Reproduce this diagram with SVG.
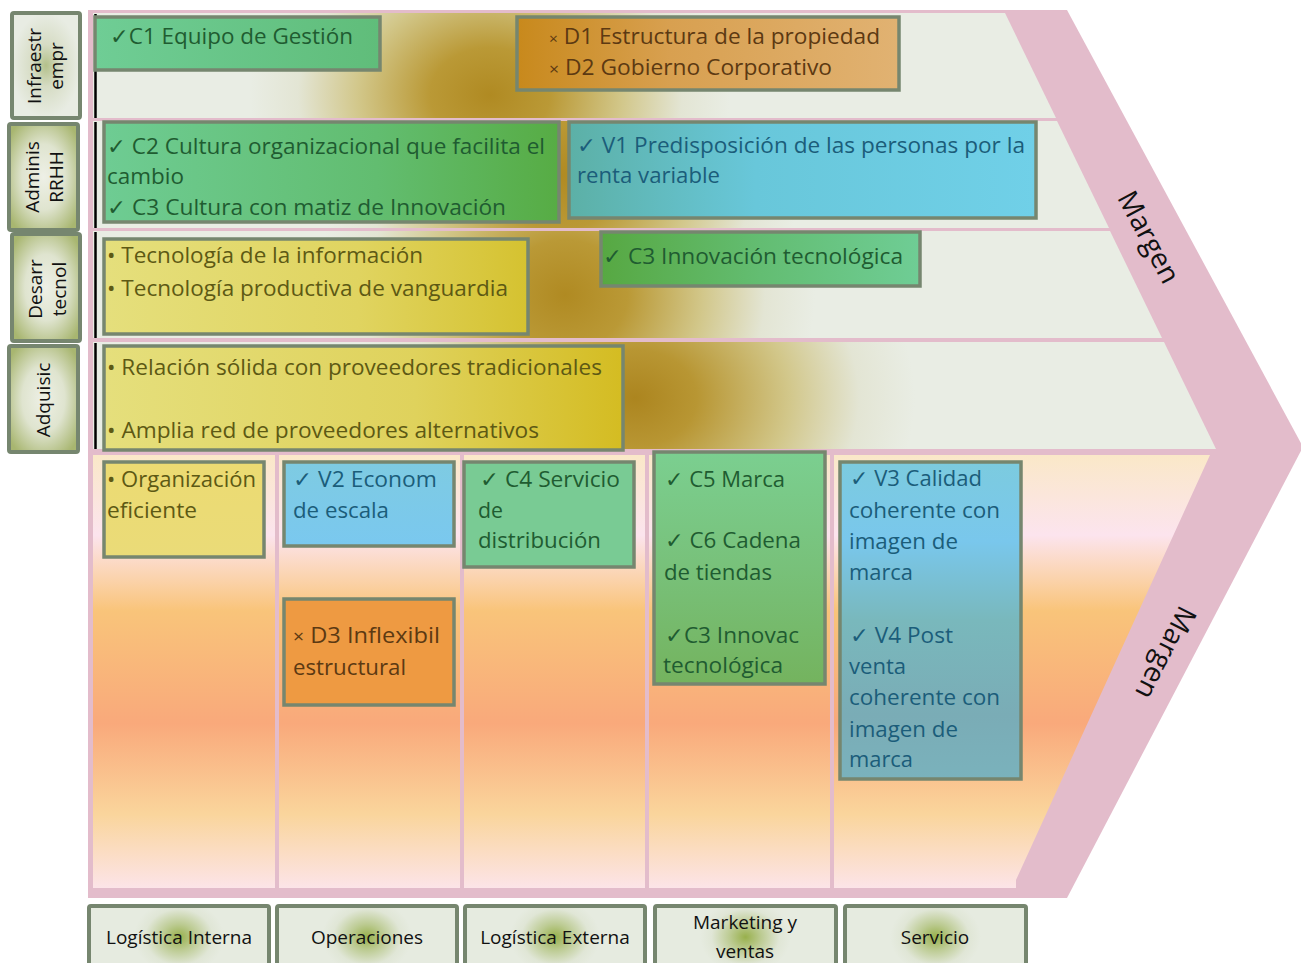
<svg xmlns="http://www.w3.org/2000/svg" width="1301" height="963" viewBox="0 0 1301 963">
<style>
  text { font-family: "Open Sans", "Noto Sans", "DejaVu Sans", sans-serif; }
  .box { stroke: #76866f; stroke-width: 3.5; }
  .t { font-size: 22px; }
  .tg { fill: #1f5c31; }
  .tb { fill: #1b5d7a; }
  .ty { fill: #5d5914; }
  .to { fill: #5c3912; }
  .lab { stroke: #76866f; stroke-width: 4; }
  .lt { font-size: 19px; fill: #111; text-anchor: middle; }
  .bt { font-size: 19px; fill: #111; text-anchor: middle; }
  .mg { font-size: 28px; fill: #111; text-anchor: middle; }
  .vline { stroke: #000; stroke-width: 2.5; }
  .sep { fill: #e3bccb; }
</style>
<defs>
  <!-- support rows: pale base with an ochre glow -->
  <radialGradient id="row1" gradientUnits="userSpaceOnUse" cx="0" cy="0" r="1" gradientTransform="translate(490 95) scale(240 190)">
    <stop offset="0" stop-color="#b08a22"/><stop offset="0.25" stop-color="#ba9936"/><stop offset="0.55" stop-color="#d2c78a"/><stop offset="0.8" stop-color="#e3e5d4"/><stop offset="1" stop-color="#e9ede4"/>
  </radialGradient>
  <radialGradient id="row2" gradientUnits="userSpaceOnUse" cx="0" cy="0" r="1" gradientTransform="translate(560 175) scale(240 220)">
    <stop offset="0" stop-color="#b08a22"/><stop offset="0.25" stop-color="#ba9936"/><stop offset="0.55" stop-color="#d2c78a"/><stop offset="0.8" stop-color="#e3e5d4"/><stop offset="1" stop-color="#e9ede4"/>
  </radialGradient>
  <radialGradient id="row3" gradientUnits="userSpaceOnUse" cx="0" cy="0" r="1" gradientTransform="translate(565 295) scale(250 220)">
    <stop offset="0" stop-color="#b08a22"/><stop offset="0.25" stop-color="#ba9936"/><stop offset="0.55" stop-color="#d2c78a"/><stop offset="0.8" stop-color="#e3e5d4"/><stop offset="1" stop-color="#e9ede4"/>
  </radialGradient>
  <radialGradient id="row4" gradientUnits="userSpaceOnUse" cx="0" cy="0" r="1" gradientTransform="translate(635 398) scale(280 220)">
    <stop offset="0" stop-color="#ac851f"/><stop offset="0.22" stop-color="#b89633"/><stop offset="0.55" stop-color="#d2c78a"/><stop offset="0.8" stop-color="#e3e5d4"/><stop offset="1" stop-color="#e9ede4"/>
  </radialGradient>
  <!-- primary activities band -->
  <linearGradient id="prim" gradientUnits="userSpaceOnUse" x1="0" y1="455" x2="0" y2="888">
    <stop offset="0" stop-color="#fae8c8"/>
    <stop offset="0.185" stop-color="#fce4ee"/>
    <stop offset="0.28" stop-color="#fbd4b0"/>
    <stop offset="0.36" stop-color="#f9c47a"/>
    <stop offset="0.62" stop-color="#f9a97b"/>
    <stop offset="0.83" stop-color="#fad59c"/>
    <stop offset="1" stop-color="#fce4e8"/>
  </linearGradient>
  <!-- box fills -->
  <linearGradient id="gC1" x1="0" y1="0" x2="1" y2="0"><stop offset="0" stop-color="#6fcd95"/><stop offset="1" stop-color="#60bd7a"/></linearGradient>
  <linearGradient id="gD1" x1="0" y1="0" x2="1" y2="0"><stop offset="0" stop-color="#c8891c"/><stop offset="0.4" stop-color="#d8a050"/><stop offset="1" stop-color="#e1b272"/></linearGradient>
  <linearGradient id="gC2" x1="0" y1="0" x2="1" y2="0"><stop offset="0" stop-color="#6ecc93"/><stop offset="0.6" stop-color="#62bd70"/><stop offset="1" stop-color="#57ac44"/></linearGradient>
  <linearGradient id="gV1" x1="0" y1="0" x2="1" y2="0"><stop offset="0" stop-color="#5cb0a6"/><stop offset="0.4" stop-color="#68c7da"/><stop offset="1" stop-color="#70d0e8"/></linearGradient>
  <linearGradient id="gTec" x1="0" y1="0" x2="1" y2="0"><stop offset="0" stop-color="#e5df7c"/><stop offset="0.6" stop-color="#e0d460"/><stop offset="1" stop-color="#d5c230"/></linearGradient>
  <linearGradient id="gC3" x1="0" y1="0" x2="1" y2="0"><stop offset="0" stop-color="#57a842"/><stop offset="0.5" stop-color="#63bd72"/><stop offset="1" stop-color="#6fcd95"/></linearGradient>
  <linearGradient id="gAdq" x1="0" y1="0" x2="1" y2="0"><stop offset="0" stop-color="#e5df7c"/><stop offset="0.6" stop-color="#dfd25c"/><stop offset="1" stop-color="#d4bc22"/></linearGradient>
  <linearGradient id="gOrg" x1="0" y1="0" x2="0" y2="1"><stop offset="0" stop-color="#ecdb72"/><stop offset="1" stop-color="#eadb78"/></linearGradient>
  <linearGradient id="gV2" x1="0" y1="0" x2="0" y2="1"><stop offset="0" stop-color="#7ecbe2"/><stop offset="1" stop-color="#7ac8ef"/></linearGradient>
  <linearGradient id="gC5" x1="0" y1="0" x2="0" y2="1"><stop offset="0" stop-color="#7bcf90"/><stop offset="0.5" stop-color="#78c17a"/><stop offset="1" stop-color="#74b35e"/></linearGradient>
  <linearGradient id="gV3" x1="0" y1="0" x2="0" y2="1"><stop offset="0" stop-color="#7ccbdf"/><stop offset="0.25" stop-color="#79c7ec"/><stop offset="0.5" stop-color="#79b8bc"/><stop offset="0.8" stop-color="#7aacb6"/><stop offset="1" stop-color="#7ab2bc"/></linearGradient>
  <!-- label fills -->
  <radialGradient id="lblInfra" cx="50%" cy="50%" r="50%">
    <stop offset="0" stop-color="#b3c08a"/><stop offset="0.4" stop-color="#d6dcc4"/><stop offset="1" stop-color="#e8ece3"/>
  </radialGradient>
  <radialGradient id="lblOlive" cx="50%" cy="50%" r="62%">
    <stop offset="0" stop-color="#eef0e6"/><stop offset="0.5" stop-color="#dfe4cf"/><stop offset="1" stop-color="#a8b670"/>
  </radialGradient>
  <radialGradient id="lblAct" cx="0.5" cy="0.5" r="0.5" gradientTransform="translate(0.5 0.5) scale(0.5 1.2) translate(-0.5 -0.5)">
    <stop offset="0" stop-color="#98b04c"/><stop offset="0.35" stop-color="#bccb92"/><stop offset="0.75" stop-color="#e0e6d6"/><stop offset="1" stop-color="#e6ebe0"/>
  </radialGradient>
</defs>

<!-- chain outline -->
<g id="chain">
  <polygon class="sep" points="88,10 1067,10 1303,447 1067,898 88,898"/>
  <polygon fill="url(#row1)" points="93,13 1005,13 1056,118 93,118"/>
  <polygon fill="url(#row2)" points="93,121 1057,121 1109,228 93,228"/>
  <polygon fill="url(#row3)" points="93,231 1110,231 1162,338 93,338"/>
  <polygon fill="url(#row4)" points="93,342 1164,342 1216,449 93,449"/>
  <rect x="93" y="455" width="182" height="433" fill="url(#prim)"/>
  <rect x="279" y="455" width="181" height="433" fill="url(#prim)"/>
  <rect x="464" y="455" width="181" height="433" fill="url(#prim)"/>
  <rect x="649" y="455" width="181" height="433" fill="url(#prim)"/>
  <polygon fill="url(#prim)" points="834,455 1210,455 1016,880 1016,888 834,888"/>
  <line class="vline" x1="95.5" y1="14" x2="95.5" y2="118"/>
  <line class="vline" x1="95.5" y1="122" x2="95.5" y2="228"/>
  <line class="vline" x1="95.5" y1="232" x2="95.5" y2="338"/>
  <line class="vline" x1="95.5" y1="343" x2="95.5" y2="449"/>
  <text class="mg" transform="translate(1149,237) rotate(62)" dy="0.35em" textLength="100" lengthAdjust="spacingAndGlyphs">Margen</text>
  <text class="mg" transform="translate(1166,653) rotate(117)" dy="0.35em" textLength="100" lengthAdjust="spacingAndGlyphs">Margen</text>
</g>

<!-- support activity labels -->
<g id="lbl-infra">
  <rect class="lab" x="12" y="13" width="68" height="105" rx="2" fill="url(#lblInfra)"/>
  <text class="lt" transform="translate(41,66) rotate(-90)">Infraestr</text>
  <text class="lt" transform="translate(63,66) rotate(-90)">empr</text>
</g>
<g id="lbl-rrhh">
  <rect class="lab" x="9" y="124" width="69" height="106" rx="2" fill="url(#lblOlive)"/>
  <text class="lt" transform="translate(39,177) rotate(-90)">Adminis</text>
  <text class="lt" transform="translate(63,177) rotate(-90)">RRHH</text>
</g>
<g id="lbl-tec">
  <rect class="lab" x="12" y="234" width="68" height="107" rx="2" fill="url(#lblOlive)"/>
  <text class="lt" transform="translate(42,289) rotate(-90)">Desarr</text>
  <text class="lt" transform="translate(66,289) rotate(-90)">tecnol</text>
</g>
<g id="lbl-adq">
  <rect class="lab" x="9" y="346" width="69" height="106" rx="2" fill="url(#lblOlive)"/>
  <text class="lt" transform="translate(50,400) rotate(-90)">Adquisic</text>
</g>

<!-- support activity notes -->
<g id="n-c1">
  <rect class="box" x="95" y="17" width="285" height="53" fill="url(#gC1)"/>
  <text class="t tg" x="110" y="44" textLength="243" lengthAdjust="spacingAndGlyphs">✓C1 Equipo de Gestión</text>
</g>
<g id="n-d1d2">
  <rect class="box" x="517" y="17" width="382" height="73" fill="url(#gD1)"/>
  <text class="t to" x="549" y="44" textLength="331" lengthAdjust="spacingAndGlyphs"><tspan font-size="15">×</tspan> D1 Estructura de la propiedad</text>
  <text class="t to" x="549" y="75" textLength="283" lengthAdjust="spacingAndGlyphs"><tspan font-size="17">×</tspan> D2 Gobierno Corporativo</text>
</g>
<g id="n-c2c3">
  <rect class="box" x="104" y="122" width="455" height="100" fill="url(#gC2)"/>
  <text class="t tg" x="107" y="154" textLength="438" lengthAdjust="spacingAndGlyphs">✓ C2 Cultura organizacional que facilita el</text>
  <text class="t tg" x="107" y="184" textLength="77" lengthAdjust="spacingAndGlyphs">cambio</text>
  <text class="t tg" x="107" y="215" textLength="399" lengthAdjust="spacingAndGlyphs">✓ C3 Cultura con matiz de Innovación</text>
</g>
<g id="n-v1">
  <rect class="box" x="569" y="122" width="467" height="96" fill="url(#gV1)"/>
  <text class="t tb" x="577" y="153" textLength="448" lengthAdjust="spacingAndGlyphs">✓ V1 Predisposición de las personas por la</text>
  <text class="t tb" x="577" y="183" textLength="143" lengthAdjust="spacingAndGlyphs">renta variable</text>
</g>
<g id="n-tec">
  <rect class="box" x="104" y="239" width="424" height="95" fill="url(#gTec)"/>
  <text class="t ty" x="107" y="263" textLength="316" lengthAdjust="spacingAndGlyphs">• Tecnología de la información</text>
  <text class="t ty" x="107" y="296" textLength="401" lengthAdjust="spacingAndGlyphs">• Tecnología productiva de vanguardia</text>
</g>
<g id="n-c3i">
  <rect class="box" x="601" y="232" width="319" height="54" fill="url(#gC3)"/>
  <text class="t tg" x="603" y="264" textLength="300" lengthAdjust="spacingAndGlyphs">✓ C3 Innovación tecnológica</text>
</g>
<g id="n-adq">
  <rect class="box" x="104" y="346" width="519" height="104" fill="url(#gAdq)"/>
  <text class="t ty" x="107" y="375" textLength="495" lengthAdjust="spacingAndGlyphs">• Relación sólida con proveedores tradicionales</text>
  <text class="t ty" x="107" y="438" textLength="432" lengthAdjust="spacingAndGlyphs">• Amplia red de proveedores alternativos</text>
</g>

<!-- primary activity notes -->
<g id="n-org">
  <rect class="box" x="104" y="462" width="160" height="95" fill="url(#gOrg)"/>
  <text class="t ty" x="107" y="487" textLength="149" lengthAdjust="spacingAndGlyphs">• Organización</text>
  <text class="t ty" x="107" y="518" textLength="90" lengthAdjust="spacingAndGlyphs">eficiente</text>
</g>
<g id="n-v2">
  <rect class="box" x="284" y="462" width="170" height="84" fill="url(#gV2)"/>
  <text class="t tb" x="293" y="487" textLength="144" lengthAdjust="spacingAndGlyphs">✓ V2 Econom</text>
  <text class="t tb" x="293" y="518" textLength="96" lengthAdjust="spacingAndGlyphs">de escala</text>
</g>
<g id="n-d3">
  <rect class="box" x="284" y="599" width="170" height="106" fill="#ee9a42"/>
  <text class="t to" x="293" y="643" textLength="147" lengthAdjust="spacingAndGlyphs"><tspan font-size="18">×</tspan>  D3 Inflexibil</text>
  <text class="t to" x="293" y="675" textLength="113" lengthAdjust="spacingAndGlyphs">estructural</text>
</g>
<g id="n-c4">
  <rect class="box" x="464" y="462" width="170" height="105" fill="#79cb94"/>
  <text class="t tg" x="480" y="487" textLength="140" lengthAdjust="spacingAndGlyphs">✓ C4 Servicio</text>
  <text class="t tg" x="478" y="518" textLength="25" lengthAdjust="spacingAndGlyphs">de</text>
  <text class="t tg" x="478" y="548" textLength="123" lengthAdjust="spacingAndGlyphs">distribución</text>
</g>
<g id="n-c5">
  <rect class="box" x="654" y="452" width="171" height="232" fill="url(#gC5)"/>
  <text class="t tg" x="665" y="487" textLength="120" lengthAdjust="spacingAndGlyphs">✓ C5 Marca</text>
  <text class="t tg" x="665" y="548" textLength="136" lengthAdjust="spacingAndGlyphs">✓ C6 Cadena</text>
  <text class="t tg" x="664" y="580" textLength="108" lengthAdjust="spacingAndGlyphs">de tiendas</text>
  <text class="t tg" x="665" y="643" textLength="134" lengthAdjust="spacingAndGlyphs">✓C3 Innovac</text>
  <text class="t tg" x="663" y="673" textLength="120" lengthAdjust="spacingAndGlyphs">tecnológica</text>
</g>
<g id="n-v3v4">
  <rect class="box" x="840" y="462" width="181" height="317" fill="url(#gV3)"/>
  <text class="t tb" x="850" y="486" textLength="132" lengthAdjust="spacingAndGlyphs">✓ V3 Calidad</text>
  <text class="t tb" x="849" y="518" textLength="151" lengthAdjust="spacingAndGlyphs">coherente con</text>
  <text class="t tb" x="849" y="549" textLength="109" lengthAdjust="spacingAndGlyphs">imagen de</text>
  <text class="t tb" x="849" y="580" textLength="64" lengthAdjust="spacingAndGlyphs">marca</text>
  <text class="t tb" x="850" y="643" textLength="103" lengthAdjust="spacingAndGlyphs">✓ V4 Post</text>
  <text class="t tb" x="849" y="674" textLength="57" lengthAdjust="spacingAndGlyphs">venta</text>
  <text class="t tb" x="849" y="705" textLength="151" lengthAdjust="spacingAndGlyphs">coherente con</text>
  <text class="t tb" x="849" y="737" textLength="109" lengthAdjust="spacingAndGlyphs">imagen de</text>
  <text class="t tb" x="849" y="767" textLength="64" lengthAdjust="spacingAndGlyphs">marca</text>
</g>

<!-- primary activity labels -->
<g id="lbl-log-int">
  <rect class="lab" x="89" y="906" width="180" height="62" rx="2" fill="url(#lblAct)"/>
  <text class="bt" x="179" y="944">Logística Interna</text>
</g>
<g id="lbl-oper">
  <rect class="lab" x="277" y="906" width="180" height="62" rx="2" fill="url(#lblAct)"/>
  <text class="bt" x="367" y="944">Operaciones</text>
</g>
<g id="lbl-log-ext">
  <rect class="lab" x="465" y="906" width="180" height="62" rx="2" fill="url(#lblAct)"/>
  <text class="bt" x="555" y="944">Logística Externa</text>
</g>
<g id="lbl-mkt">
  <rect class="lab" x="655" y="906" width="181" height="62" rx="2" fill="url(#lblAct)"/>
  <text class="bt" x="745" y="929">Marketing y</text>
  <text class="bt" x="745" y="958">ventas</text>
</g>
<g id="lbl-serv">
  <rect class="lab" x="845" y="906" width="181" height="62" rx="2" fill="url(#lblAct)"/>
  <text class="bt" x="935" y="944">Servicio</text>
</g>
</svg>
